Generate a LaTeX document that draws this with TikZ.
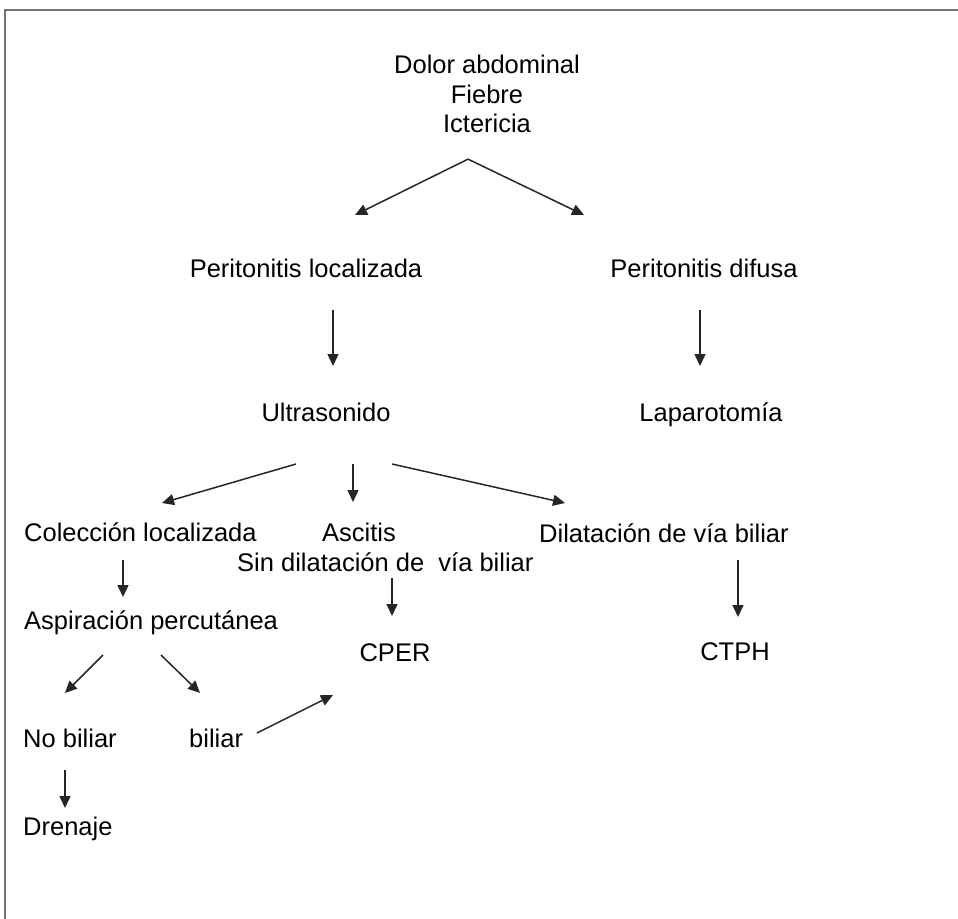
\documentclass[tikz,border=0pt]{standalone}
\usepackage{fontspec}
\setmainfont{Liberation Sans}
\usetikzlibrary{positioning,arrows.meta,calc}

\begin{document}
\begin{tikzpicture}[x=1pt, y=-1pt,
    txt/.style={inner sep=0pt, font=\fontsize{25.5}{29.5}\selectfont},
    arr/.style={-{Triangle[length=12pt, width=11pt]}, line width=1.5pt, black!85}]
    \clip (0,0) rectangle (958,918);
    \draw[line width=1.8pt, black!55] (5,10) rectangle (970,930);
    % top of the tree
    \node[txt, anchor=north, align=center] (sint) at (487,55) {Dolor abdominal\\Fiebre\\Ictericia};
    \node[txt, anchor=base] (pl) at (306,277) {Peritonitis localizada};
    \node[txt, anchor=base] (pd) at (704,277) {Peritonitis difusa};
    \node[txt, anchor=base] (us) at (326,421) {Ultrasonido};
    \node[txt, anchor=base] (lap) at (711,421) {Laparotomía};
    % second level
    \node[txt, anchor=base west] (col) at (24,541) {Colección localizada};
    \node[txt, anchor=base] (asc) at (359,541) {Ascitis};
    \node[txt, anchor=base west] (sind) at (237,571) {Sin dilatación de\ \ vía biliar};
    \node[txt, anchor=base west] (dil) at (539,542) {Dilatación de vía biliar};
    \node[txt, anchor=base west] (asp) at (24,629) {Aspiración percutánea};
    \node[txt, anchor=base] (cper) at (395,661) {CPER};
    \node[txt, anchor=base] (ctph) at (735,660) {CTPH};
    \node[txt, anchor=base west] (nob) at (23,747) {No biliar};
    \node[txt, anchor=base west] (bil) at (189,747) {biliar};
    \node[txt, anchor=base west] (dren) at (23,835) {Drenaje};
    % connectors
    \draw[arr] ($(sint.south)+(-19,26)$) -- ($(pl.base)+(49,-62)$);
    \draw[arr] ($(sint.south)+(-19,26)$) -- ($(pd.base)+(-120,-62)$);
    \draw[arr] ($(pl.base)+(27,33)$) -- ($(us.base)+(7,-55)$);
    \draw[arr] ($(pd.base)+(-4,33)$) -- ($(lap.base)+(-11,-55)$);
    \draw[arr] ($(us.base)+(-30,43)$) -- ($(col.base west)+(138,-38)$);
    \draw[arr] ($(us.base)+(27,43)$) -- ($(asc.base)+(-6,-39)$);
    \draw[arr] ($(us.base)+(66,43)$) -- ($(dil.base west)+(26,-39)$);
    \draw[arr] ($(col.base west)+(99,19)$) -- ($(asp.base west)+(99,-32)$);
    \draw[arr] ($(sind.base west)+(155,7)$) -- ($(cper.base)+(-3,-45)$);
    \draw[arr] ($(dil.base west)+(199,18)$) -- ($(ctph.base)+(3,-43)$);
    \draw[arr] ($(asp.base west)+(79,26)$) -- ($(nob.base west)+(42,-54)$);
    \draw[arr] ($(asp.base west)+(137,26)$) -- ($(bil.base west)+(11,-54)$);
    \draw[arr] ($(bil.base west)+(68,-14)$) -- ($(cper.base)+(-62,34)$);
    \draw[arr] ($(nob.base west)+(42,23)$) -- ($(dren.base west)+(42,-27)$);
\end{tikzpicture}
\end{document}
